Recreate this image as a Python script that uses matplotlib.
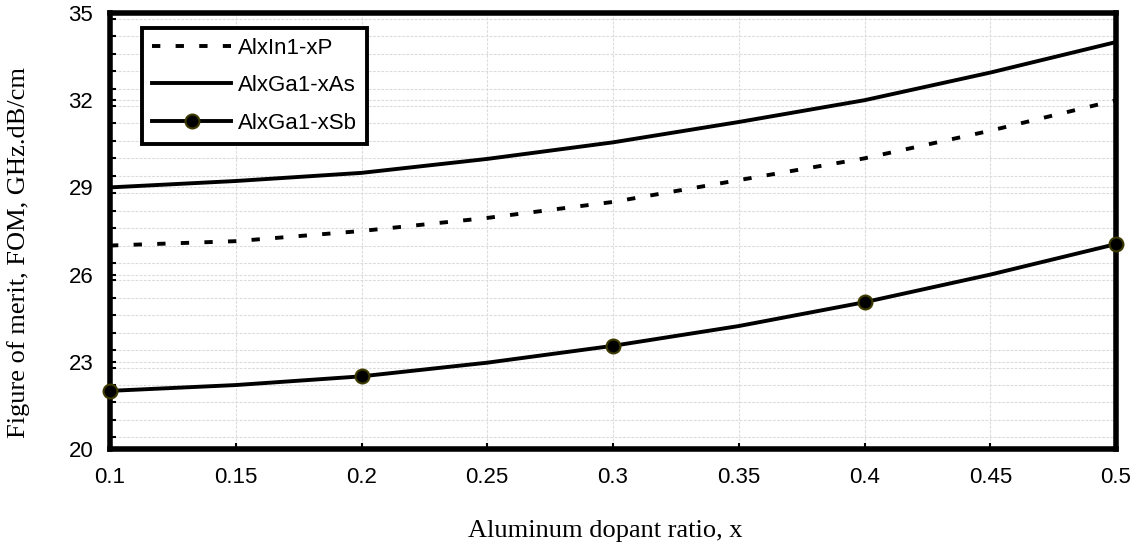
import matplotlib
matplotlib.use("Agg")
import matplotlib.pyplot as plt
from matplotlib.ticker import MultipleLocator

x = [0.1, 0.15, 0.2, 0.25, 0.3, 0.35, 0.4, 0.45, 0.5]
alinp = [27.0, 27.15, 27.5, 27.95, 28.5, 29.25, 30.0, 30.95, 32.0]
algaas = [29.0, 29.22, 29.5, 29.98, 30.55, 31.25, 32.0, 32.95, 34.0]
algasb = [22.0, 22.2, 22.5, 22.97, 23.55, 24.23, 25.05, 26.0, 27.05]
labels = ["AlxIn1-xP", "AlxGa1-xAs", "AlxGa1-xSb"]
xticks = [0.1, 0.15, 0.2, 0.25, 0.3, 0.35, 0.4, 0.45, 0.5]
xtick_labels = ["0.1", "0.15", "0.2", "0.25", "0.3", "0.35", "0.4", "0.45", "0.5"]
yticks = [20, 23, 26, 29, 32, 35]

plt.rcParams['lines.scale_dashes'] = False
fig = plt.figure(figsize=(11.45, 5.47), dpi=100)
ax = fig.add_axes([110/1145, 1-449/547, 1006/1145, 436/547])

ax.plot(x, alinp, color='black', lw=2.8, dashes=(6, 11), label=labels[0],
        dash_capstyle='butt')
ax.plot(x, algaas, color='black', lw=2.8, label=labels[1])
ax.plot(x, algasb, color='black', lw=2.8, marker='o', markevery=2, markersize=10,
        markerfacecolor='black', markeredgecolor='#3d3a00', markeredgewidth=1.5,
        label=labels[2], clip_on=False, zorder=5)

ax.set_xlim(0.1, 0.5)
ax.set_ylim(20, 35)
ax.set_xticks(xticks)
ax.set_xticklabels(xtick_labels)
ax.set_yticks(yticks)
ax.yaxis.set_minor_locator(MultipleLocator(0.6))

gkw = dict(color='#dcdcdc', lw=0.8, ls=(0, (2, 1)))
ax.grid(True, which='major', axis='x', **gkw)
ax.grid(True, which='minor', axis='y', **gkw)
ax.grid(True, which='major', axis='y', **gkw)

for s in ax.spines.values():
    s.set_linewidth(4)
    s.set_joinstyle('round')

ax.tick_params(axis='both', which='both', direction='in', width=1.5, color='black')
ax.tick_params(axis='both', which='major', length=4, labelsize=16)
ax.tick_params(axis='x', which='major', pad=13)
ax.tick_params(axis='y', which='major', pad=12)
ax.tick_params(axis='y', which='minor', length=4)
for lab in ax.get_xticklabels() + ax.get_yticklabels():
    lab.set_fontfamily('Liberation Sans')

ax.set_xlabel("Aluminum dopant ratio, x", family='Liberation Serif', fontsize=19)
ax.set_ylabel("Figure of merit, FOM, GHz.dB/cm", family='Liberation Serif', fontsize=19)
ax.xaxis.set_label_coords(0.492, (449 - 520) / 436)
ax.yaxis.set_label_coords((30 - 110) / 1006, (449 - 252) / 436)

leg = ax.legend(loc='upper left', bbox_to_anchor=(0.032, 0.966),
                prop={'family': 'Liberation Sans', 'size': 16},
                handlelength=3.55, handletextpad=0.3, labelspacing=0.74, borderpad=0.45,
                fancybox=False, frameon=True, borderaxespad=0)
leg.get_frame().set_edgecolor('black')
leg.get_frame().set_linewidth(2.8)
leg.get_frame().set_alpha(1)

fig.savefig("out.png", dpi=100)
